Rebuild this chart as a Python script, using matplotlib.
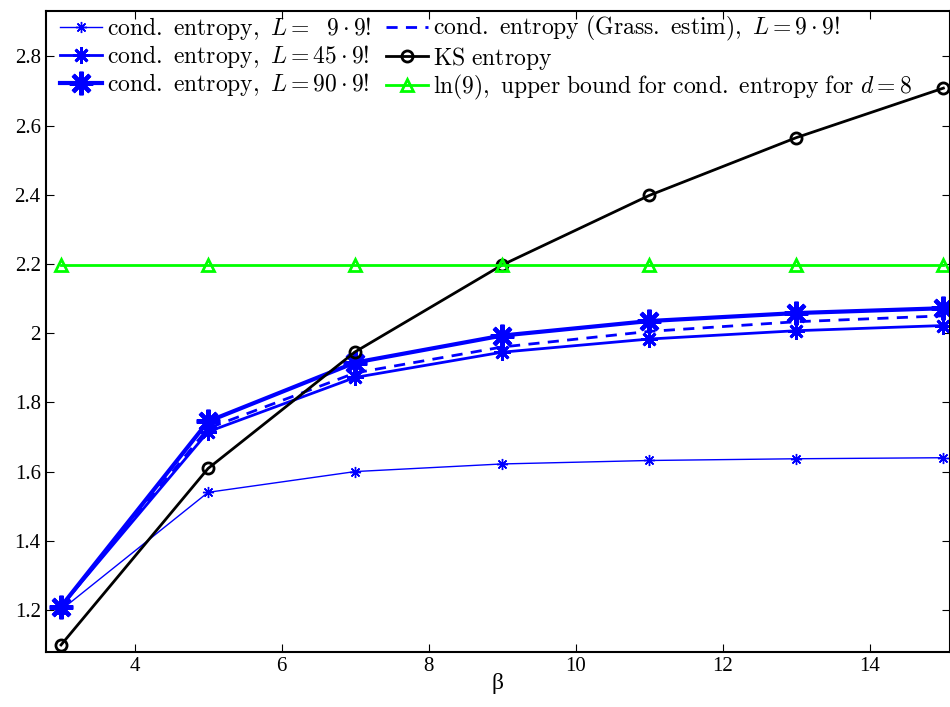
import matplotlib
matplotlib.use("Agg")
from matplotlib import pyplot as plt
from matplotlib.ticker import FormatStrFormatter

# beta values
beta = [3, 5, 7, 9, 11, 13, 15]

# conditional entropy for different lengths L
cond_9 = [1.20, 1.54, 1.60, 1.622, 1.632, 1.637, 1.640]
cond_45 = [1.21, 1.715, 1.872, 1.945, 1.983, 2.007, 2.022]
cond_90 = [1.21, 1.745, 1.915, 1.993, 2.035, 2.058, 2.072]
cond_grass = [1.21, 1.725, 1.885, 1.960, 2.005, 2.033, 2.050]

# KS entropy and upper bound
ks = [1.099, 1.609, 1.946, 2.197, 2.398, 2.565, 2.708]
upper = [2.197, 2.197, 2.197, 2.197, 2.197, 2.197, 2.197]

labels = [
    r"$\mathrm{cond.\ entropy,}\ L=\ \ 9\cdot 9!$",
    r"$\mathrm{cond.\ entropy,}\ L=45\cdot 9!$",
    r"$\mathrm{cond.\ entropy,}\ L=90\cdot 9!$",
    r"$\mathrm{cond.\ entropy\ (Grass.\ estim),}\ L=9\cdot 9!$",
    r"$\mathrm{KS\ entropy}$",
    r"$\mathrm{ln(9),\ upper\ bound\ for\ cond.\ entropy\ for}\ d=8$",
]

plt.rcParams["mathtext.fontset"] = "cm"
plt.rcParams["font.family"] = ["Liberation Serif", "DejaVu Serif"]

fig = plt.figure(figsize=(9.5, 7.07), dpi=100)
ax = fig.add_axes([0.048, 0.078, 0.952, 0.906])

ast = (8, 2, 0)
blue = (0, 0, 1)
ax.plot(beta, cond_9, color=blue, lw=1, marker=ast, ms=8, mew=1, label=labels[0])
ax.plot(beta, cond_45, color=blue, lw=2, marker=ast, ms=12, mew=2, label=labels[1])
ax.plot(beta, cond_90, color=blue, lw=3, marker=ast, ms=17, mew=3, label=labels[2])
ax.plot(beta, cond_grass, color=blue, lw=2, ls="--", dashes=(4, 3), label=labels[3])
ax.plot(beta, ks, color="k", lw=2, marker="o", ms=8, mew=2, mfc="none", label=labels[4])
ax.plot(beta, upper, color=(0, 1, 0), lw=2, marker="^", ms=8, mew=2, mfc="none", label=labels[5])

ax.set_xlim(2.79, 15.09)
ax.set_ylim(1.079, 2.93)
ax.set_xticks([4, 6, 8, 10, 12, 14])
ax.set_yticks([1.2, 1.4, 1.6, 1.8, 2.0, 2.2, 2.4, 2.6, 2.8])
ax.yaxis.set_major_formatter(FormatStrFormatter("%g"))
ax.tick_params(direction="in", length=6, labelsize=15, top=True, right=True)
for s in ax.spines.values():
    s.set_linewidth(1.5)
ax.set_xlabel("β", fontsize=17, labelpad=-2)

ax.legend(loc="upper left", ncol=2, frameon=False, fontsize=17, handlelength=1.8,
          handletextpad=0.2, columnspacing=0.6, labelspacing=0.05,
          borderaxespad=0.0, bbox_to_anchor=(0.005, 1.01))

fig.savefig("out.png", dpi=100)
